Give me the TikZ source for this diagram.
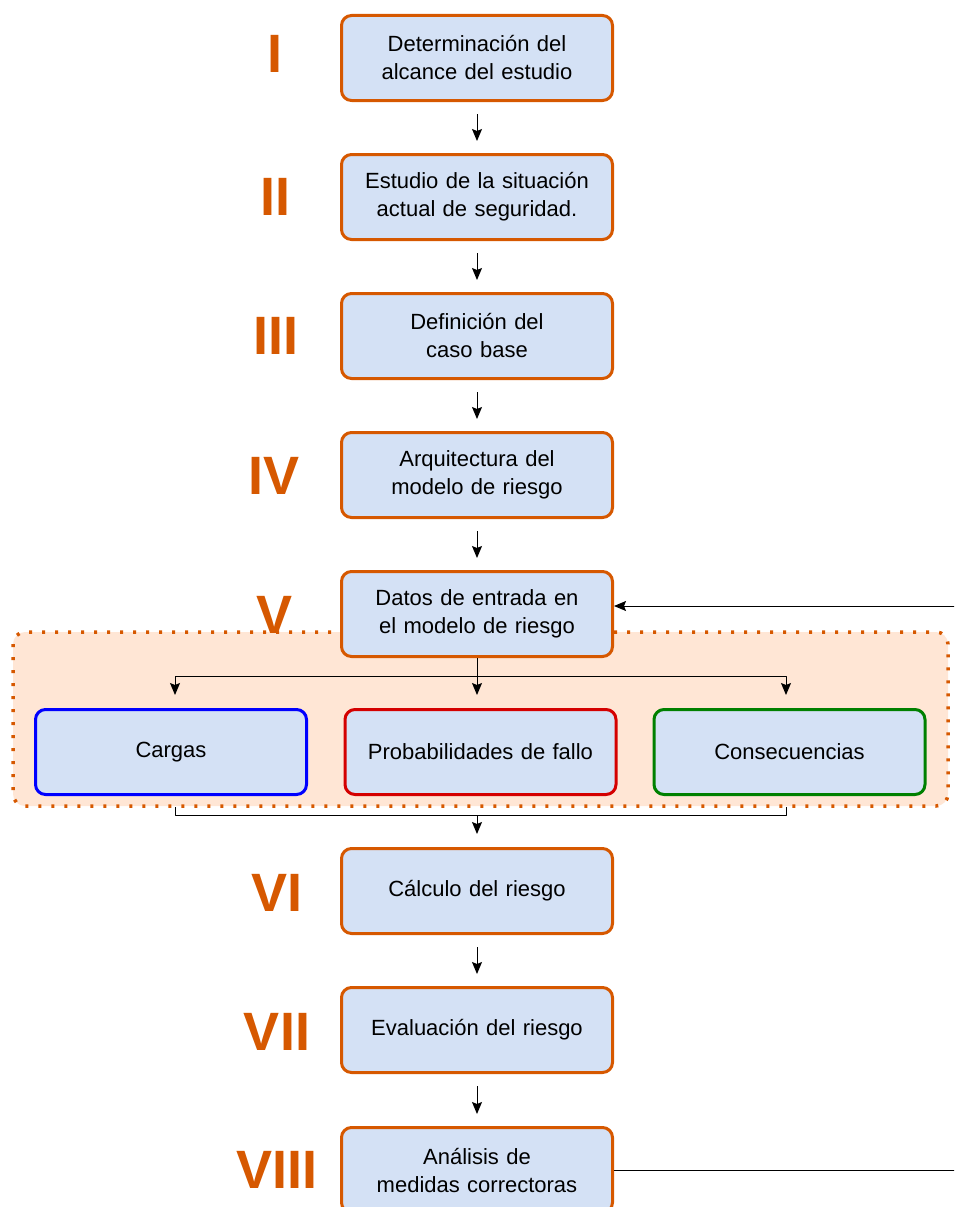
\documentclass[tikz,border=0pt]{standalone}
\usepackage{fontspec}
\setmainfont{Liberation Sans}
\usetikzlibrary{arrows.meta}
\definecolor{naranja}{RGB}{214,88,0}
\definecolor{azulclaro}{RGB}{212,225,245}
\definecolor{durazno}{RGB}{255,230,213}
\definecolor{azul}{RGB}{0,0,255}
\definecolor{rojo}{RGB}{212,0,0}
\definecolor{verde}{RGB}{0,128,0}
\tikzset{
  punta/.style={-{Stealth[length=12pt,width=10pt,inset=2pt]}, line width=1pt},
  paso/.style={draw=naranja, fill=azulclaro, line width=3pt, rounded corners=10pt,
    minimum width=271pt, minimum height=85pt, align=center, text width=260pt,
    font=\fontsize{22}{28}\selectfont},
  sub/.style={paso, draw=#1},
  fase/.style={text=naranja, inner sep=0pt, font=\fontsize{54}{60}\selectfont\bfseries},
  flecha/.style={punta, shorten <=12pt, shorten >=12pt}
}
\begin{document}
\begin{tikzpicture}[x=1pt,y=-1pt, line join=round]
\useasboundingbox (0,0) rectangle (954,1207);
\clip (0,0) rectangle (954,1207);
\def\xc{477} % eje de las cajas
% grupo de la fase V
\draw[naranja, fill=durazno, line width=3.5pt, dash pattern=on 3pt off 10pt, rounded corners=12pt]
  (13,632) rectangle (948,806);
% pasos
\node[paso] (I)    at (\xc,58)   {Determinación del\\alcance del estudio};
\node[paso] (II)   at (\xc,197)  {Estudio de la situación\\actual de seguridad.};
\node[paso] (III)  at (\xc,336)  {Definición del\\caso base};
\node[paso] (IV)   at (\xc,475)  {Arquitectura del\\modelo de riesgo};
\node[paso] (V)    at (\xc,614)  {Datos de entrada en\\el modelo de riesgo};
\node[paso] (VI)   at (\xc,891)    {Cálculo del riesgo};
\node[paso] (VII)  at (\xc,1030)   {Evaluación del riesgo};
\node[paso] (VIII) at (\xc,1170) {Análisis de\\medidas correctoras};
\node[sub=azul]  (carg) at (171,752)   {Cargas};
\node[sub=rojo]  (prob) at (480.5,752) {Probabilidades de fallo};
\node[sub=verde] (cons) at (789.5,752) {Consecuencias};
% numerales
\node[fase] (nI)    at (275,54)   {I};
\node[fase] (nII)   at (275,197)  {II};
\node[fase] (nIII)  at (276,336)  {III};
\node[fase] (nIV)   at (274,476)  {IV};
\node[fase] (nV)    at (275,615)  {V};
\node[fase] (nVI)   at (277,893)  {VI};
\node[fase] (nVII)  at (277,1032) {VII};
\node[fase] (nVIII) at (277,1170) {VIII};
% flechas entre pasos
\foreach \a/\b in {I/II, II/III, III/IV, IV/V, VI/VII, VII/VIII}
  \draw[flecha] (\a) -- (\b);
% reparto hacia los datos
\coordinate (rep) at (\xc,676);
\coordinate (une) at (\xc,815);
\draw[line width=1pt] (V.south) -- (rep);
\draw[punta, shorten >=13pt] (rep) -| ([xshift=4pt]carg.north);
\draw[punta, shorten >=13pt] (rep) -| ([xshift=-3.5pt]prob.north);
\draw[punta, shorten >=13pt] (rep) -| ([xshift=-3.5pt]cons.north);
% union hacia el calculo
\draw[line width=1pt, shorten <=11pt] ([xshift=4pt]carg.south) |- (une);
\draw[line width=1pt, shorten <=11pt] ([xshift=-3.5pt]cons.south) |- (une);
\draw[punta, shorten >=13pt] (une) -- (VI.north);
% retorno
\draw[punta] (VIII.east) -- (990,1170) -- (990,606) -- ([yshift=8pt]V.east);
\end{tikzpicture}
\end{document}
